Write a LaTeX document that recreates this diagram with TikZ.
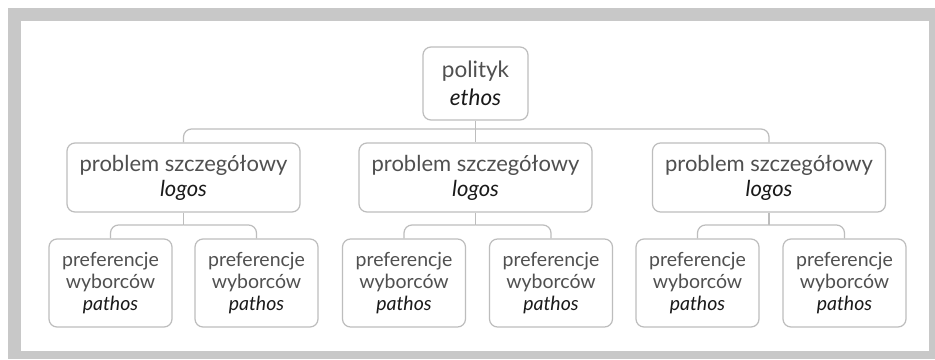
\documentclass[tikz,border=0pt]{standalone}
\usepackage{fontspec}
\setmainfont{Lato}
\definecolor{framegrey}{HTML}{C8C8C8}
\definecolor{linegrey}{HTML}{BDBDBD}
\definecolor{txtgrey}{HTML}{505050}
\definecolor{txtdark}{HTML}{1A1A1A}
\tikzset{
  box/.style={draw=linegrey, line width=1.2pt, rounded corners=8pt, fill=white,
    align=center, inner sep=0pt, text=txtgrey},
  topbox/.style={box, minimum width=105pt, minimum height=73pt, font=\fontsize{22.5}{28}\selectfont},
  midbox/.style={box, minimum width=233pt, minimum height=69pt, font=\fontsize{22}{25}\selectfont},
  leafbox/.style={box, minimum width=123pt, minimum height=88pt, font=\fontsize{19.5}{22}\selectfont},
  conn/.style={draw=linegrey, line width=1.2pt},
  rconn/.style={conn, rounded corners=8pt},
}
\newcommand{\emk}[1]{{\color{txtdark}\itshape #1}}
\begin{document}
\begin{tikzpicture}[x=1pt,y=-1pt]
\useasboundingbox (0,0) rectangle (935,359);
\fill[white] (0,0) rectangle (935,359);
\fill[framegrey] (8,8) rectangle (935,359);
\fill[white] (21,21) rectangle (929,351);

\node[topbox] (top) at (475.5,83.5) {polityk\\\emk{ethos}};

\node[midbox] (a) at (183.5,177.5) {problem szczegółowy\\\emk{logos}};
\node[midbox] (b) at (475.5,177.5) {problem szczegółowy\\\emk{logos}};
\node[midbox] (c) at (769,177.5) {problem szczegółowy\\\emk{logos}};

\node[leafbox] (a1) at (110.5,283) {preferencje\\wyborców\\\emk{pathos}};
\node[leafbox] (a2) at (256.5,283) {preferencje\\wyborców\\\emk{pathos}};
\node[leafbox] (b1) at (404,283) {preferencje\\wyborców\\\emk{pathos}};
\node[leafbox] (b2) at (551,283) {preferencje\\wyborców\\\emk{pathos}};
\node[leafbox] (c1) at (697.5,283) {preferencje\\wyborców\\\emk{pathos}};
\node[leafbox] (c2) at (844.5,283) {preferencje\\wyborców\\\emk{pathos}};

\coordinate (j0) at (475.5,129);
\coordinate (ja) at (183.5,225);
\coordinate (jb) at (475.5,225);
\coordinate (jc) at (769,225);

\draw[conn] (top.south) -- (j0);
\draw[rconn] (j0) -| (a.north);
\draw[conn] (j0) -- (b.north);
\draw[rconn] (j0) -| (c.north);

\draw[conn] (a.south) -- (ja);
\draw[rconn] (ja) -| (a1.north);
\draw[rconn] (ja) -| (a2.north);
\draw[conn] (b.south) -- (jb);
\draw[rconn] (jb) -| (b1.north);
\draw[rconn] (jb) -| (b2.north);
\draw[conn] (c.south) -- (jc);
\draw[rconn] (jc) -| (c1.north);
\draw[rconn] (jc) -| (c2.north);
\end{tikzpicture}
\end{document}
